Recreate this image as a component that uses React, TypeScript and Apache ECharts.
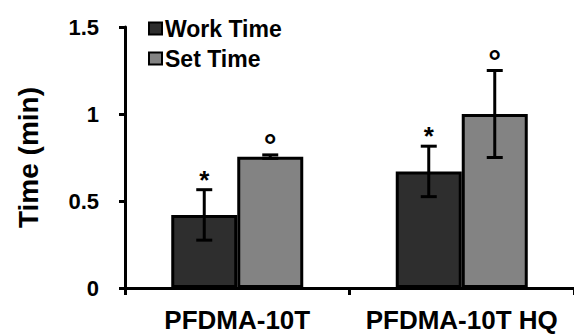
import React, { useEffect, useRef } from "react";
import * as echarts from "echarts";

const categories = ["PFDMA-10T", "PFDMA-10T HQ"];
const workTime = [0.42, 0.67];
const workErr = [0.145, 0.145];
const setTime = [0.755, 1.0];
const setErr = [0.01, 0.25];
const workMarks = ["*", "*"];
const setMarks = ["°", "°"];
const yTicks = { min: 0, max: 1.5, interval: 0.5 };

const FONT = "'Liberation Sans', Arial, sans-serif";
const BAR_W = 66;

function errorSeries(name: string, values: number[], errs: number[], marks: string[], offset: number, markSize: number, markDy: number) {
  return {
    type: "custom",
    name: name + "-err",
    silent: true,
    z: 10,
    data: values.map((v, i) => [i, v, errs[i]]),
    renderItem: (params: any, api: any) => {
      const i = api.value(0);
      const v = api.value(1);
      const e = api.value(2);
      const mark = marks[params.dataIndex];
      const c = api.coord([i, v]);
      const top = api.coord([i, v + e]);
      const bot = api.coord([i, v - e]);
      const x = c[0] + offset;
      const cap = 8;
      const style = { stroke: "#000", lineWidth: 3 };
      return {
        type: "group",
        children: [
          { type: "line", shape: { x1: x, y1: top[1], x2: x, y2: bot[1] }, style },
          { type: "line", shape: { x1: x - cap, y1: top[1], x2: x + cap, y2: top[1] }, style },
          { type: "line", shape: { x1: x - cap, y1: bot[1], x2: x + cap, y2: bot[1] }, style },
          {
            type: "text",
            style: {
              text: mark,
              x: x,
              y: top[1] - markDy,
              align: "center",
              verticalAlign: "middle",
              font: `bold ${markSize}px ${FONT}`,
              fill: "#000",
            },
          },
        ],
      };
    },
  };
}

export default function App() {
  const ref = useRef<HTMLDivElement>(null);
  useEffect(() => {
    if (!ref.current) return;
    const chart = echarts.init(ref.current, null, { renderer: "svg" });
    chart.setOption({
      animation: false,
      backgroundColor: "#fff",
      grid: { left: 125, top: 27, width: 456, height: 261 },
      legend: {
        orient: "vertical",
        left: 148,
        top: 17,
        padding: 0,
        itemWidth: 13,
        itemHeight: 12,
        itemGap: 7,
        icon: "rect",
        data: ["Work Time", "Set Time"],
        textStyle: { fontFamily: FONT, fontWeight: "bold", fontSize: 23, color: "#000", padding: [0, 0, 0, -2] },
      },
      xAxis: {
        type: "category",
        data: categories,
        axisLine: { lineStyle: { color: "#000", width: 3 } },
        axisTick: { show: true, length: 7, lineStyle: { color: "#000", width: 3 } },
        axisLabel: {
          interval: 0,
          hideOverlap: false,
          fontFamily: FONT,
          fontWeight: "bold",
          fontSize: 26,
          color: "#000",
          margin: 19,
        },
      },
      yAxis: {
        type: "value",
        min: yTicks.min,
        max: yTicks.max,
        interval: yTicks.interval,
        name: "Time (min)",
        nameLocation: "middle",
        nameRotate: 90,
        nameGap: 83,
        nameTextStyle: { fontFamily: FONT, fontWeight: "bold", fontSize: 28, color: "#000" },
        axisLine: { show: true, lineStyle: { color: "#000", width: 3 } },
        axisTick: { show: true, length: 6, lineStyle: { color: "#000", width: 3 } },
        splitLine: { show: false },
        axisLabel: {
          fontFamily: FONT,
          fontWeight: "bold",
          fontSize: 22,
          color: "#000",
          margin: 26,
          formatter: (v: number) => String(v),
        },
      },
      series: [
        {
          type: "bar",
          name: "Work Time",
          data: workTime,
          barWidth: BAR_W,
          barGap: "0%",
          itemStyle: { color: "#2e2e2e", borderColor: "#000", borderWidth: 3 },
        },
        {
          type: "bar",
          name: "Set Time",
          data: setTime,
          barWidth: BAR_W,
          barGap: "0%",
          itemStyle: { color: "#838383", borderColor: "#000", borderWidth: 3 },
        },
        errorSeries("Work Time", workTime, workErr, workMarks, -BAR_W / 2, 26, 10),
        errorSeries("Set Time", setTime, setErr, setMarks, BAR_W / 2, 32, 10),
      ],
    });
    return () => chart.dispose();
  }, []);
  return (
    <div
      ref={ref}
      style={{ position: "fixed", left: 0, top: 0, width: 574, height: 335, background: "#fff" }}
    />
  );
}
